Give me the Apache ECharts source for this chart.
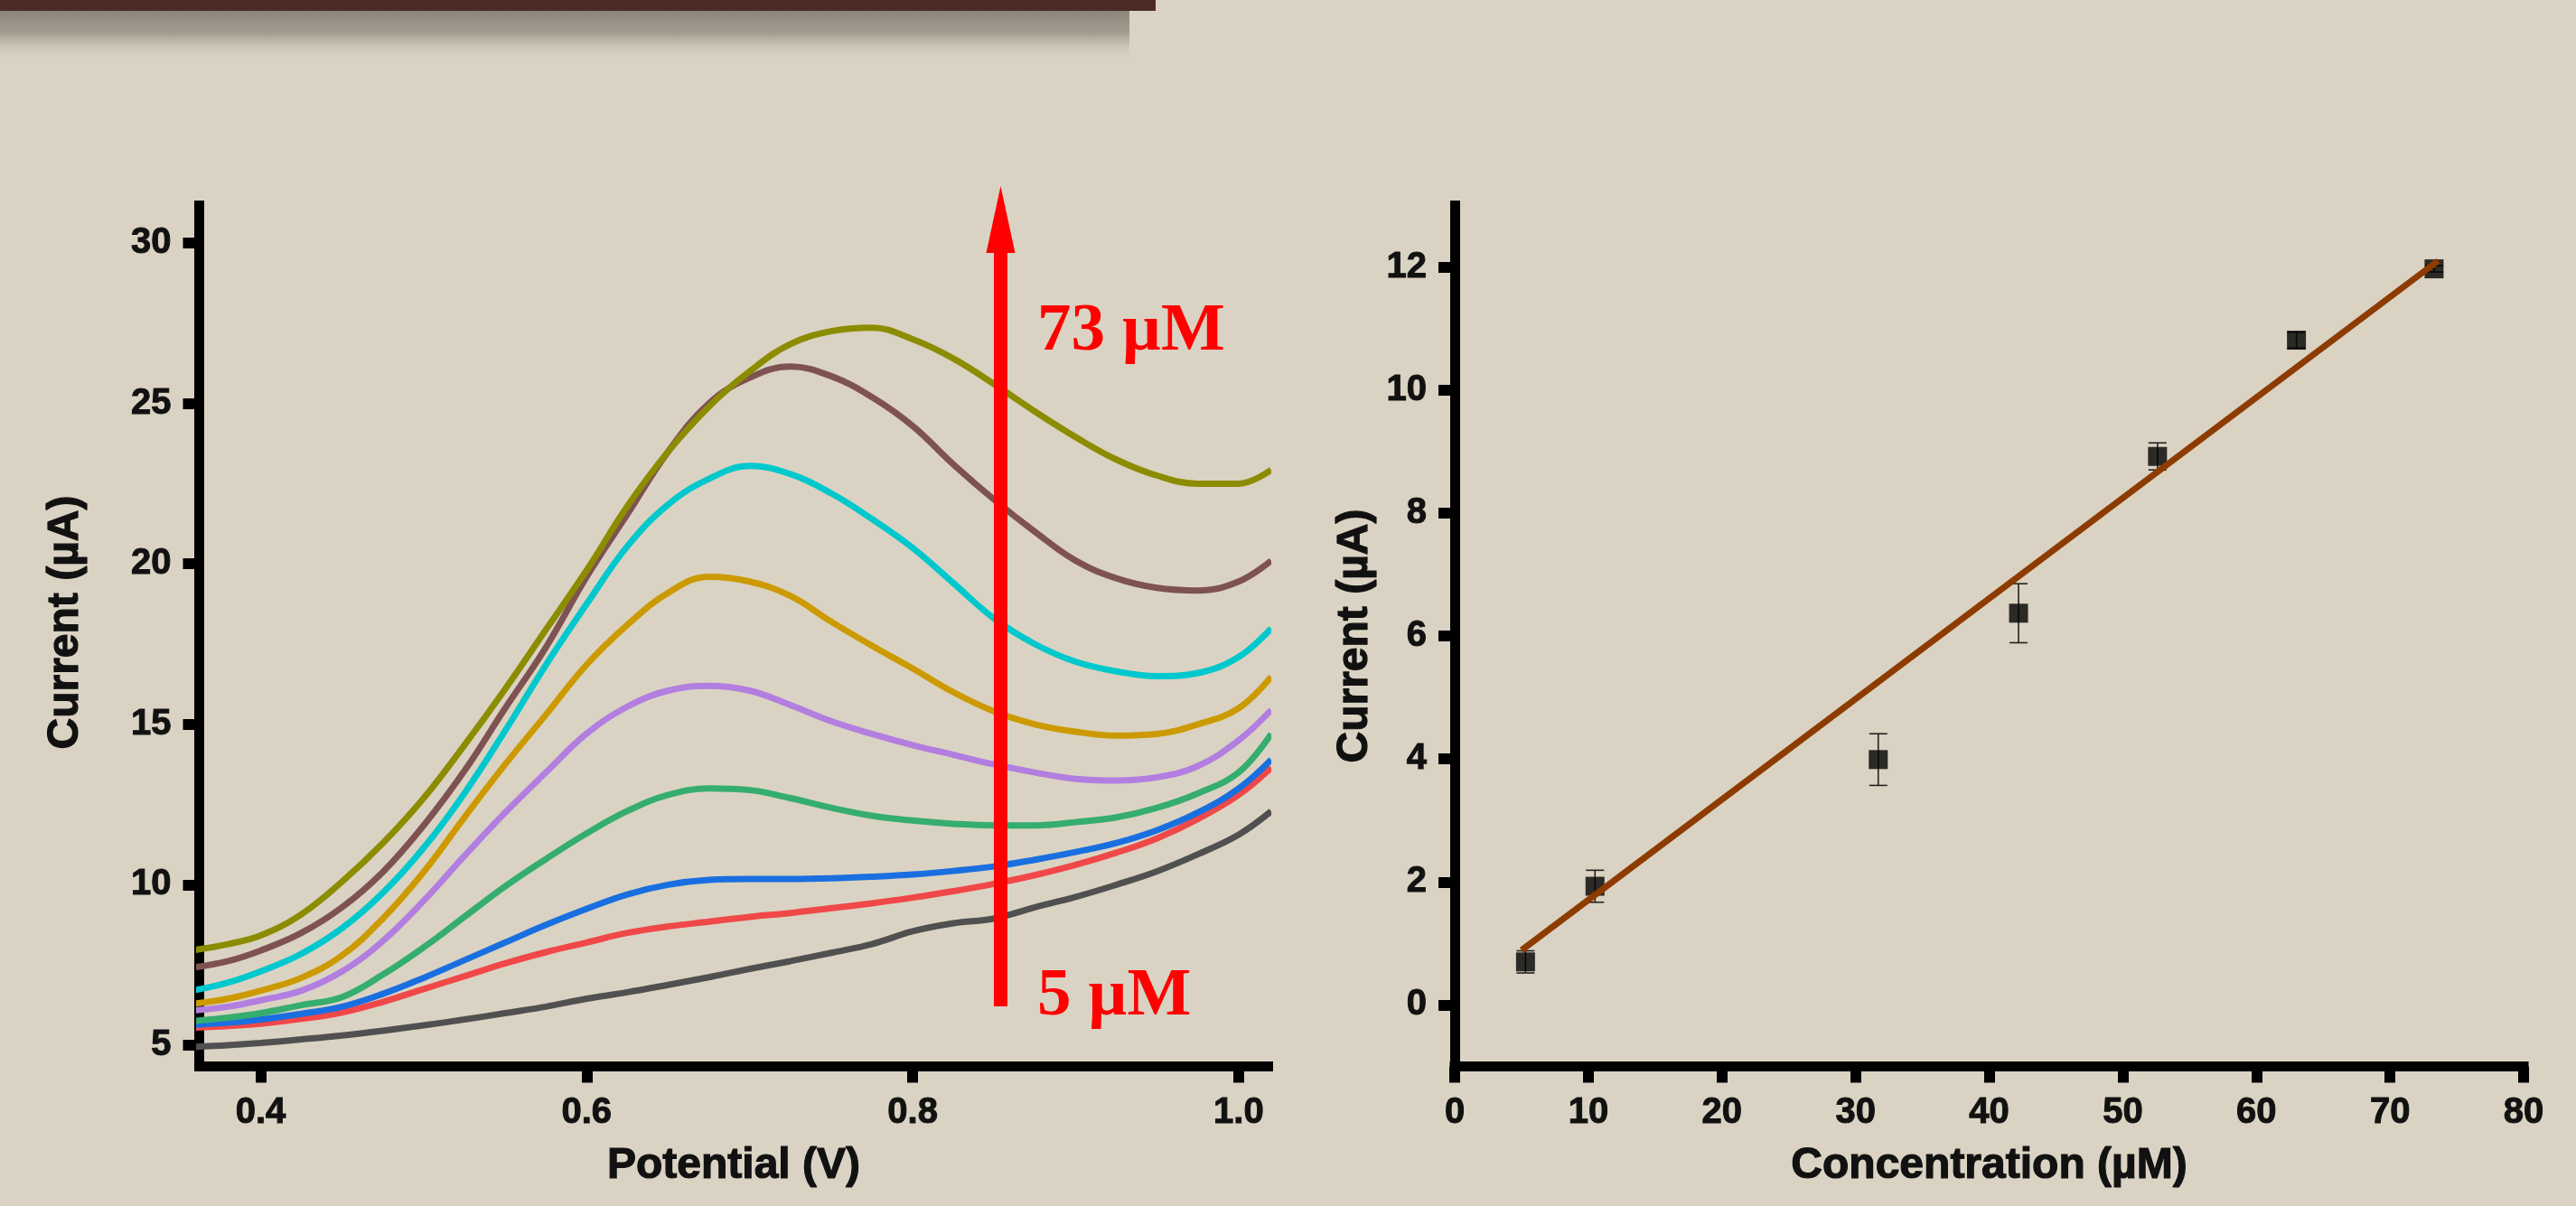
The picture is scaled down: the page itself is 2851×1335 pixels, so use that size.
<!DOCTYPE html>
<html>
<head>
<meta charset="utf-8">
<script src="https://cdn.jsdelivr.net/npm/echarts@6/dist/echarts.min.js"></script>
<style>
  html, body { margin: 0; padding: 0; background: #dad3c3; }
  #chart { width: 2851px; height: 1335px; }
</style>
</head>
<body>
<div id="chart"></div>
<script>
// left panel: DPV curves, 5 uM (bottom) to 73 uM (top)
const potential = [0.36, 0.38, 0.40, 0.425, 0.45, 0.475, 0.50, 0.525, 0.55, 0.575, 0.60, 0.625, 0.65, 0.675,
  0.70, 0.725, 0.75, 0.775, 0.80, 0.825, 0.85, 0.875, 0.90, 0.925, 0.95, 0.975, 1.00, 1.02];

const curve1 = [4.95, 5.0, 5.07, 5.18, 5.3, 5.45, 5.62, 5.8, 6.0, 6.2, 6.45, 6.65, 6.88, 7.12,
  7.38, 7.62, 7.88, 8.15, 8.55, 8.8, 8.95, 9.3, 9.62, 10.0, 10.42, 10.95, 11.56, 12.29];
const curve2 = [5.55, 5.6, 5.67, 5.82, 6.02, 6.35, 6.75, 7.15, 7.55, 7.9, 8.2, 8.5, 8.7, 8.85,
  9.0, 9.12, 9.27, 9.42, 9.6, 9.8, 10.03, 10.3, 10.62, 11.0, 11.45, 12.05, 12.8, 13.65];
const curve3 = [5.64, 5.7, 5.8, 5.98, 6.2, 6.6, 7.1, 7.65, 8.2, 8.75, 9.25, 9.7, 10.0, 10.15,
  10.18, 10.18, 10.2, 10.25, 10.32, 10.43, 10.57, 10.78, 11.02, 11.3, 11.7, 12.25, 13.0, 13.9];
const curve4 = [5.76, 5.86, 6.0, 6.25, 6.5, 7.2, 8.05, 9.0, 9.95, 10.8, 11.6, 12.3, 12.8, 13.0,
  12.95, 12.7, 12.4, 12.15, 12.0, 11.9, 11.85, 11.85, 11.95, 12.1, 12.4, 12.85, 13.5, 14.7];
const curve5 = [6.09, 6.2, 6.4, 6.7, 7.3, 8.25, 9.5, 10.9, 12.25, 13.5, 14.71, 15.55, 16.05, 16.2,
  16.05, 15.6, 15.1, 14.7, 14.35, 14.05, 13.75, 13.5, 13.3, 13.25, 13.35, 13.7, 14.5, 15.45];
const curve6 = [6.3, 6.45, 6.7, 7.1, 7.8, 8.95, 10.4, 12.1, 13.75, 15.3, 16.86, 18.1, 19.1, 19.6,
  19.45, 19.0, 18.2, 17.45, 16.74, 16.0, 15.4, 15.0, 14.77, 14.65, 14.7, 15.0, 15.5, 16.48];
const curve7 = [6.72, 6.95, 7.3, 7.85, 8.65, 9.75, 11.15, 12.85, 14.8, 16.85, 18.75, 20.55, 21.85, 22.65,
  23.05, 22.8, 22.2, 21.4, 20.5, 19.4, 18.3, 17.5, 16.95, 16.65, 16.5, 16.6, 17.1, 17.99];
const curve8 = [7.43, 7.62, 7.95, 8.5, 9.3, 10.4, 11.85, 13.55, 15.5, 17.4, 19.6, 21.55, 23.5, 25.0,
  25.8, 26.15, 25.85, 25.2, 24.3, 23.1, 22.0, 21.0, 20.1, 19.55, 19.25, 19.17, 19.45, 20.1];
const curve9 = [7.97, 8.15, 8.42, 9.08, 10.1, 11.3, 12.7, 14.35, 16.1, 17.95, 19.8, 21.8, 23.5, 24.9,
  26.0, 26.85, 27.25, 27.36, 27.0, 26.4, 25.6, 24.75, 23.95, 23.25, 22.75, 22.5, 22.5, 22.93];

const curveColors = ['#505050', '#f04848', '#1a6fe0', '#35ad6e', '#b27ee0', '#cc9a00', '#00c8cc', '#7f5252', '#8c8c00'];
const curves = [curve1, curve2, curve3, curve4, curve5, curve6, curve7, curve8, curve9];

const leftXTicks = [0.4, 0.6, 0.8, 1.0];
const leftYTicks = [5, 10, 15, 20, 25, 30];

// arrow potential and its span
const arrowX = 0.854;
const arrowFrom = 6.21;
const arrowHead = 30.73;

// right panel: calibration
const concentration = [5.3, 10.5, 31.7, 42.2, 52.6, 63.0, 73.3];
const currentMean = [0.70, 1.93, 3.99, 6.37, 8.92, 10.81, 11.97];
const currentErr = [0.18, 0.26, 0.42, 0.48, 0.22, 0.13, 0.05];
const fitX = [5.0, 73.6];
const fitY = [0.89, 12.1];

const rightXTicks = [0, 10, 20, 30, 40, 50, 60, 70, 80];
const rightYTicks = [0, 2, 4, 6, 8, 10, 12];

const chart = echarts.init(document.getElementById('chart'));

const FONT = 'Liberation Sans';
const INK = '#111';
const axisLine = { show: true, onZero: false, lineStyle: { color: '#000', width: 11, cap: 'square' } };
const nameStyle = {
  fontFamily: FONT, fontWeight: 'bold', fontSize: 48, color: INK,
  textBorderColor: INK, textBorderWidth: 1.2
};

function tickCfg(vals) {
  return { show: true, length: 18, lineStyle: { color: '#000', width: 12 }, customValues: vals };
}
function labelCfg(vals, fmt) {
  return {
    customValues: vals, color: INK, fontFamily: FONT, fontWeight: 'bold',
    fontSize: 40, margin: 31, formatter: fmt,
    textBorderColor: INK, textBorderWidth: 1
  };
}

const curveSeries = curves.map((c, i) => ({
  type: 'line',
  xAxisIndex: 0, yAxisIndex: 0,
  data: potential.map((p, k) => [p, c[k]]),
  smooth: 0.4,
  showSymbol: false,
  lineStyle: { color: curveColors[i], width: 7 },
  z: 2 + i
}));

const option = {
  backgroundColor: '#dad3c3',
  animation: false,
  grid: [
    { left: 220.5, top: 227.5, width: 1183, height: 953 },
    { left: 1610, top: 227.5, width: 1183, height: 953 }
  ],
  xAxis: [
    {
      type: 'value', gridIndex: 0, min: 0.3623, max: 1.0181,
      axisLine, axisTick: tickCfg(leftXTicks),
      axisLabel: labelCfg(leftXTicks, v => v.toFixed(1)),
      splitLine: { show: false },
      name: 'Potential (V)', nameLocation: 'middle', nameGap: 86, nameTextStyle: nameStyle
    },
    {
      type: 'value', gridIndex: 1, min: 0, max: 80,
      axisLine, axisTick: tickCfg(rightXTicks),
      axisLabel: labelCfg(rightXTicks, v => String(v)),
      splitLine: { show: false },
      name: 'Concentration (\u00b5M)', nameLocation: 'middle', nameGap: 86, nameTextStyle: nameStyle
    }
  ],
  yAxis: [
    {
      type: 'value', gridIndex: 0, min: 4.3384, max: 31.168,
      axisLine, axisTick: tickCfg(leftYTicks),
      axisLabel: labelCfg(leftYTicks, v => String(v)),
      splitLine: { show: false },
      name: 'Current (\u00b5A)', nameLocation: 'middle', nameGap: 124,
      nameTextStyle: Object.assign({}, nameStyle, { padding: [0, 0, 0, 30] })
    },
    {
      type: 'value', gridIndex: 1, min: -1, max: 13,
      axisLine, axisTick: tickCfg(rightYTicks),
      axisLabel: labelCfg(rightYTicks, v => String(v)),
      splitLine: { show: false },
      name: 'Current (\u00b5A)', nameLocation: 'middle', nameGap: 86, nameTextStyle: nameStyle
    }
  ],
  series: curveSeries.concat([
    {
      // red arrow shaft + head
      type: 'line', xAxisIndex: 0, yAxisIndex: 0,
      data: [[arrowX, arrowFrom], [arrowX, arrowHead - 0.8]],
      showSymbol: false,
      lineStyle: { color: '#ff0000', width: 15 },
      z: 20,
      markPoint: {
        symbol: 'triangle', symbolSize: [32, 74],
        itemStyle: { color: '#ff0000' },
        label: { show: false },
        data: [{ coord: [arrowX, arrowHead] }]
      }
    },
    {
      type: 'custom', xAxisIndex: 1, yAxisIndex: 1,
      data: concentration.map((c, i) => [c, currentMean[i], currentErr[i]]),
      renderItem: function (params, api) {
        const x = api.value(0), y = api.value(1), e = api.value(2);
        const top = api.coord([x, y + e]);
        const bot = api.coord([x, y - e]);
        const st = { stroke: '#222', lineWidth: 1.6 };
        return {
          type: 'group',
          children: [
            { type: 'line', shape: { x1: top[0], y1: top[1], x2: bot[0], y2: bot[1] }, style: st },
            { type: 'line', shape: { x1: top[0] - 10, y1: top[1], x2: top[0] + 10, y2: top[1] }, style: st },
            { type: 'line', shape: { x1: bot[0] - 10, y1: bot[1], x2: bot[0] + 10, y2: bot[1] }, style: st }
          ]
        };
      },
      z: 3
    },
    {
      type: 'scatter', xAxisIndex: 1, yAxisIndex: 1,
      data: concentration.map((c, i) => [c, currentMean[i]]),
      symbol: 'rect', symbolSize: 21,
      itemStyle: { color: '#000' },
      z: 4
    },
    {
      type: 'line', xAxisIndex: 1, yAxisIndex: 1,
      data: fitX.map((x, i) => [x, fitY[i]]),
      showSymbol: false,
      lineStyle: { color: '#8e3b00', width: 7 },
      z: 5
    }
  ]),
  graphic: [
    {
      type: 'rect', left: 0, top: 12, z: 1,
      shape: { width: 1250, height: 56 },
      style: {
        fill: new echarts.graphic.LinearGradient(0, 0, 0, 1, [
          { offset: 0, color: 'rgba(130,126,114,0.9)' },
          { offset: 0.45, color: 'rgba(140,136,124,0.7)' },
          { offset: 1, color: 'rgba(218,211,195,0)' }
        ])
      }
    },
    {
      type: 'rect', left: 0, top: 0, z: 2,
      shape: { width: 1279, height: 12 },
      style: { fill: '#4b2b25' }
    },
    {
      type: 'text', left: 1148, top: 330, z: 30,
      style: { text: '73 \u00b5M', fill: '#ff0000', font: 'bold 75px "Liberation Serif"' }
    },
    {
      type: 'text', left: 1148, top: 1066, z: 30,
      style: { text: '5 \u00b5M', fill: '#ff0000', font: 'bold 75px "Liberation Serif"' }
    }
  ]
};

chart.setOption(option);
</script>
</body>
</html>
